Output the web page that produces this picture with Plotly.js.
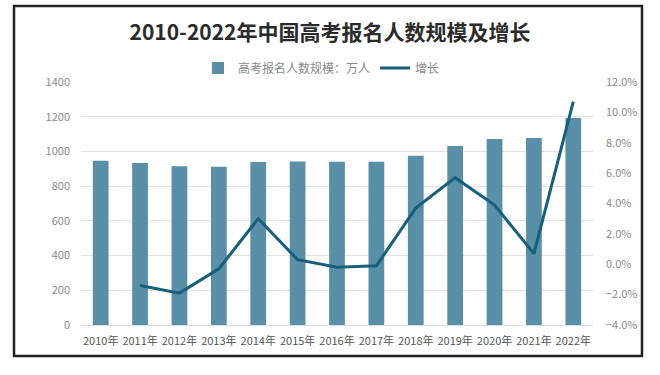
<!DOCTYPE html>
<html>
<head>
<meta charset="utf-8">
<script src="https://cdn.plot.ly/plotly-3.0.1.min.js"></script>
<style>body{margin:0;background:#fff;} #chart{width:660px;height:375px;}</style>
</head>
<body>
<div id="chart"></div>
<script>
const years = ["2010年","2011年","2012年","2013年","2014年","2015年","2016年","2017年","2018年","2019年","2020年","2021年","2022年"];
const applicants = [946, 933, 915, 912, 939, 942, 940, 940, 975, 1031, 1071, 1078, 1193];
const growth = [null, -0.014, -0.019, -0.003, 0.030, 0.003, -0.002, -0.001, 0.037, 0.057, 0.039, 0.007, 0.107];

const font = "'Noto Sans CJK SC', 'Noto Sans', sans-serif";
const traces = [
  {type:'bar', x: years, y: applicants, name:'高考报名人数规模：万人',
   marker:{color:'#5a8fa8'}, yaxis:'y'},
  {type:'scatter', mode:'lines', x: years, y: growth, name:'增长',
   line:{color:'#175f7c', width:3}, yaxis:'y2', connectgaps:false}
];
const layout = {
  width:660, height:375,
  margin:{l:81, r:67, t:82, b:50},
  paper_bgcolor:'#fff', plot_bgcolor:'#fff',
  font:{family:font, color:'#8a8a8a', size:11},
  title:{text:'2010-2022年中国高考报名人数规模及增长', x:0.5, xref:'container', y:1-33/375, yref:'container', yanchor:'middle',
         font:{family:font, size:21, color:'#2b2b2b', weight:'bold'}},
  bargap:0.6,
  showlegend:true,
  legend:{orientation:'h', x:(198-81)/512, xanchor:'left', y:1.058, yanchor:'middle', font:{size:12, color:'#8a8a8a'}, itemwidth:30, traceorder:'normal'},
  xaxis:{type:'category', showgrid:false, showline:false, ticks:'', tickfont:{size:11, color:'#555'}, ticklabelstandoff:8},
  yaxis:{range:[0,1400], dtick:200, showgrid:true, gridcolor:'#e3e3e3', zeroline:true, zerolinecolor:'#dcdcdc', ticks:'', tickfont:{size:11, color:'#8a8a8a'}, ticklabelstandoff:10},
  yaxis2:{overlaying:'y', side:'right', range:[-0.04,0.12], dtick:0.02, tickformat:'.1%', showgrid:false, zeroline:false, ticks:'', tickfont:{size:11, color:'#8a8a8a'}, ticklabelstandoff:12},
  shapes:[{type:'rect', xref:'paper', yref:'paper', x0:(14-81)/512, x1:(642-81)/512, y0:-(356-325)/243, y1:(325-6)/243, line:{color:'#222', width:2.5}, fillcolor:'rgba(0,0,0,0)', layer:'above'}]
};
Plotly.newPlot('chart', traces, layout, {displayModeBar:false, staticPlot:true});
</script>
</body>
</html>
